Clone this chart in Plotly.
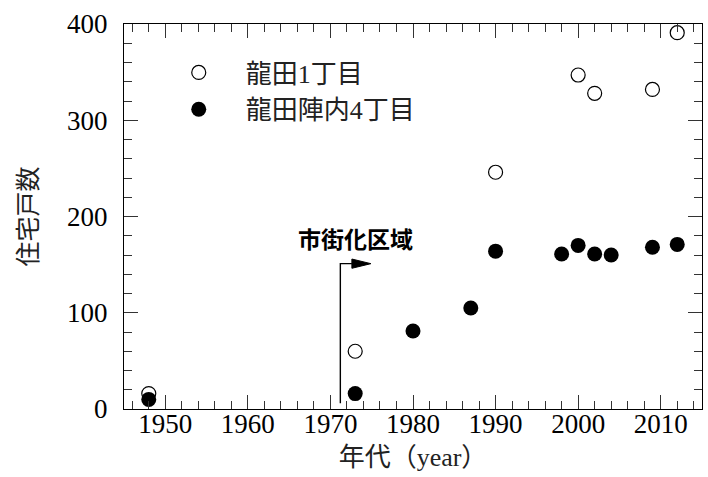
import plotly.graph_objects as go

# Data
years_a = [1948, 1973, 1990, 2000, 2002, 2009, 2012]
houses_a = [16, 60, 246, 347, 328, 332, 391]
name_a = "龍田1丁目"

years_b = [1948, 1973, 1980, 1987, 1990, 1998, 2000, 2002, 2004, 2009, 2012]
houses_b = [10, 16, 81, 105, 164, 161, 170, 161, 160, 168, 171]
name_b = "龍田陣内4丁目"

x_title = "年代（year）"
y_title = "住宅戸数"
x_range = [1945, 2015]
y_range = [0, 400]

# annotation (urbanization area)
anno_text = "市街化区域"
anno_x_start = 1971.2
anno_x_head = 1972.6
anno_x_end = 1974.9
anno_y_bottom = 6
anno_y_top = 151
anno_head_half = 4.8
anno_text_x = 1973.0
anno_text_y = 178

serif = "Liberation Serif, Noto Sans CJK JP, serif"

fig = go.Figure()
fig.add_trace(go.Scatter(
    x=years_a, y=houses_a, mode="markers", name=name_a,
    marker=dict(symbol="circle-open", size=14, color="black", line=dict(width=1.2)),
))
fig.add_trace(go.Scatter(
    x=years_b, y=houses_b, mode="markers", name=name_b,
    marker=dict(symbol="circle", size=15, color="black", line=dict(width=0)),
))

# bent arrow line
fig.add_shape(type="path", xref="x", yref="y",
              path=f"M {anno_x_start},{anno_y_bottom} L {anno_x_start},{anno_y_top} L {anno_x_head},{anno_y_top}",
              line=dict(color="black", width=1.4))
# arrow head
fig.add_shape(type="path", xref="x", yref="y",
              path=f"M {anno_x_head},{anno_y_top - anno_head_half} L {anno_x_end},{anno_y_top} "
                   f"L {anno_x_head},{anno_y_top + anno_head_half} Z",
              line=dict(color="black", width=1), fillcolor="black")
fig.add_annotation(x=anno_text_x, y=anno_text_y, xref="x", yref="y",
                   text="<b>" + anno_text + "</b>", showarrow=False,
                   font=dict(family="Noto Sans CJK JP", size=23, color="black"))

axis_common = dict(
    showgrid=False, zeroline=False, automargin=False,
    showline=True, linecolor="black", linewidth=1.2, mirror="ticks",
    ticks="inside", ticklen=14, tickwidth=1.2, tickcolor="#333",
    tickfont=dict(family=serif, size=27, color="black"),
)

fig.update_xaxes(range=x_range, dtick=10, tick0=1950,
                 minor=dict(dtick=2, ticks="inside", ticklen=8, tickcolor="#333", tickwidth=1),
                 title=dict(text=x_title, font=dict(family=serif, size=26, color="#222"), standoff=10),
                 ticklabelstandoff=-10,
                 **axis_common)
fig.update_yaxes(range=y_range, dtick=100,
                 minor=dict(dtick=20, ticks="inside", ticklen=8, tickcolor="#333", tickwidth=1),
                 title=dict(text=y_title, font=dict(family=serif, size=25, color="#222"), standoff=22),
                 ticklabelstandoff=10,
                 **axis_common)

fig.update_layout(
    width=708, height=477,
    margin=dict(l=124, r=6, t=24, b=68),
    plot_bgcolor="white", paper_bgcolor="white",
    legend=dict(x=0.048, y=0.935, xanchor="left", yanchor="top",
                font=dict(family=serif, size=26, color="#222"),
                bgcolor="rgba(0,0,0,0)", itemwidth=84, tracegroupgap=0),
)

fig.write_html("out.html", config={"displayModeBar": False},
               post_script="document.body.style.margin='0';")
